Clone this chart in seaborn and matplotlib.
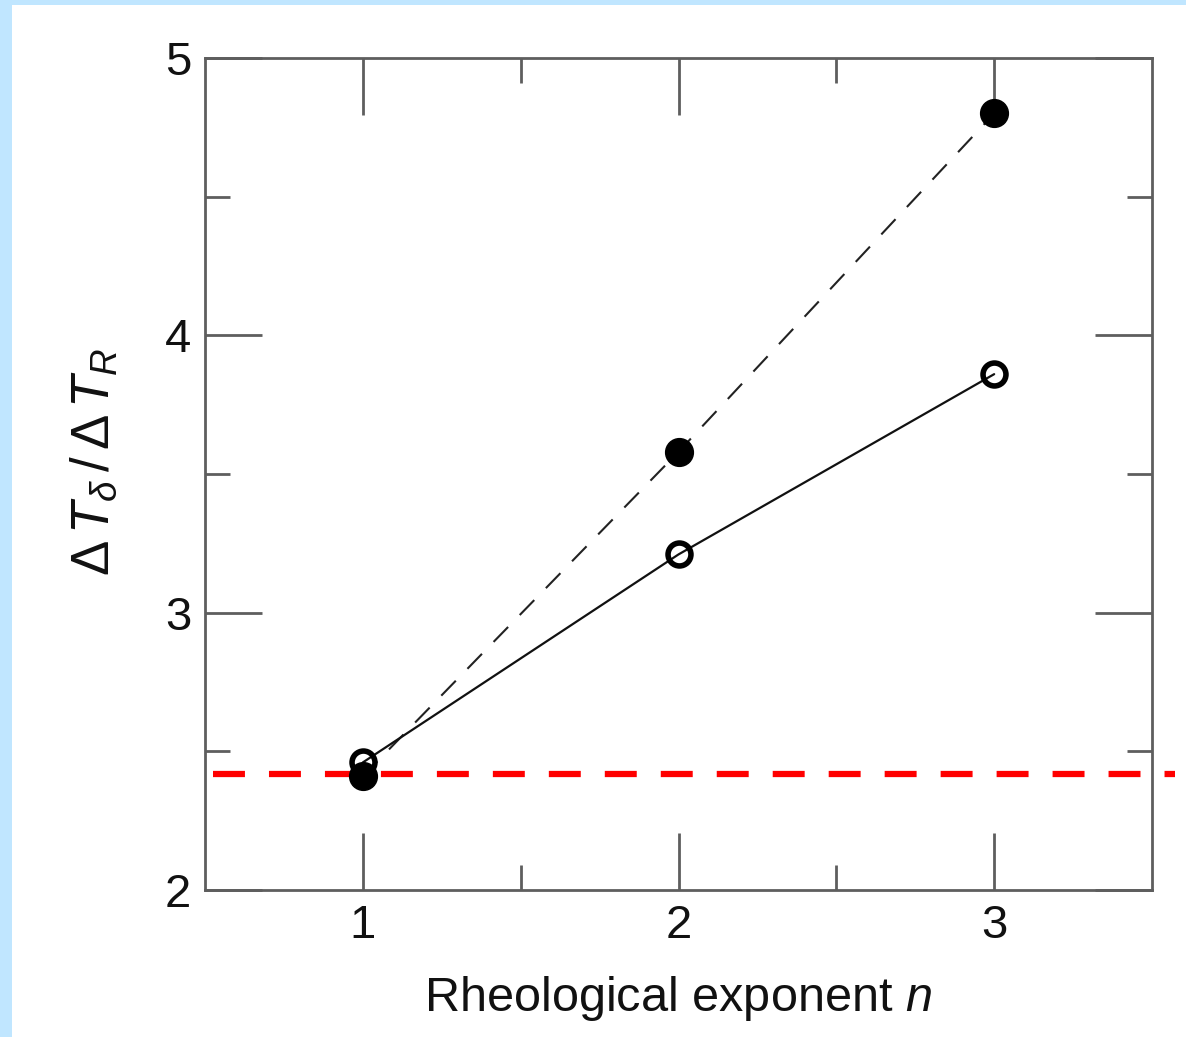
import matplotlib
matplotlib.use("Agg")
import matplotlib.pyplot as plt
from matplotlib.patches import Rectangle
import numpy as np
import pandas as pd
import seaborn as sns

# Data
exponent_n = [1, 2, 3]
filled_ratio = [2.41, 3.58, 4.80]   # filled circles, dashed line
open_ratio = [2.46, 3.21, 3.86]     # open circles, solid line
reference_ratio = 2.42              # red dashed reference level

sns.set_theme(style="white")
plt.rcParams["font.family"] = ["Liberation Sans", "DejaVu Sans"]
plt.rcParams["mathtext.fontset"] = "custom"
plt.rcParams["mathtext.rm"] = "Liberation Sans"
plt.rcParams["mathtext.it"] = "Liberation Sans:italic"
plt.rcParams["mathtext.bf"] = "Liberation Sans:bold"

W, H, DPI = 1186, 1037, 100
fig = plt.figure(figsize=(W / DPI, H / DPI), dpi=DPI)
fig.patch.set_facecolor("#c0e6ff")
fig.patches.append(Rectangle((12 / W, 0), 1 - 12 / W, 1 - 5 / H,
                             transform=fig.transFigure, facecolor="white",
                             edgecolor="none", zorder=-10))

ax = fig.add_axes([205 / W, (H - 890) / H, (1152 - 205) / W, (890 - 58) / H])
ax.set_zorder(1)
ax.set_facecolor("white")

df_filled = pd.DataFrame({"n": exponent_n, "ratio": filled_ratio})
df_open = pd.DataFrame({"n": exponent_n, "ratio": open_ratio})

# reference level, extending a little past the right frame
red_lw = 4.5
ax.plot([0.008, 1.024], [reference_ratio, reference_ratio], color="#ff0000",
        lw=red_lw, dashes=(23 / red_lw, 17.3 / red_lw),
        transform=ax.get_yaxis_transform(), clip_on=False, zorder=2)

# connecting lines
sns.lineplot(data=df_filled, x="n", y="ratio", ax=ax, color="#222222",
             lw=1.5, zorder=3)
ax.lines[-1].set_dashes((15 / 1.5, 12 / 1.5))
sns.lineplot(data=df_open, x="n", y="ratio", ax=ax, color="#111111",
             lw=1.6, zorder=3)

# markers
ax.plot(df_filled["n"], df_filled["ratio"], ls="none", marker="o",
        ms=20, color="black", zorder=5)
ax.plot(df_open["n"], df_open["ratio"], ls="none", marker="o",
        ms=16.5, mfc="none", mec="black", mew=4, zorder=6)

ax.set_xlim(0.5, 3.5)
ax.set_ylim(2, 5)
ax.set_xticks([1, 2, 3])
ax.set_xticks([1.5, 2.5], minor=True)
ax.set_yticks([2, 3, 4, 5])
ax.set_yticks([2.5, 3.5, 4.5], minor=True)

spine_col = "#5e5e5e"
for s in ax.spines.values():
    s.set_color(spine_col)
    s.set_linewidth(2.0)
    s.set_visible(True)

ax.tick_params(which="major", direction="in", length=41, width=2.0,
               color=spine_col, top=True, right=True, bottom=True, left=True,
               labelsize=34, pad=10, labelcolor="#111111")
ax.tick_params(which="minor", direction="in", length=18, width=2.0,
               color=spine_col, top=True, right=True, bottom=True, left=True)

ax.set_xlabel("Rheological exponent $n$", fontsize=35, color="#111111",
              labelpad=19)
ax.set_ylabel(r"$\Delta\,T_\delta\,/\,\Delta\,T_R$", fontsize=38,
              color="#111111")
ax.yaxis.set_label_coords(-0.09, 0.515)
ax.grid(False)

fig.savefig("out.png", dpi=DPI, facecolor=fig.get_facecolor())
